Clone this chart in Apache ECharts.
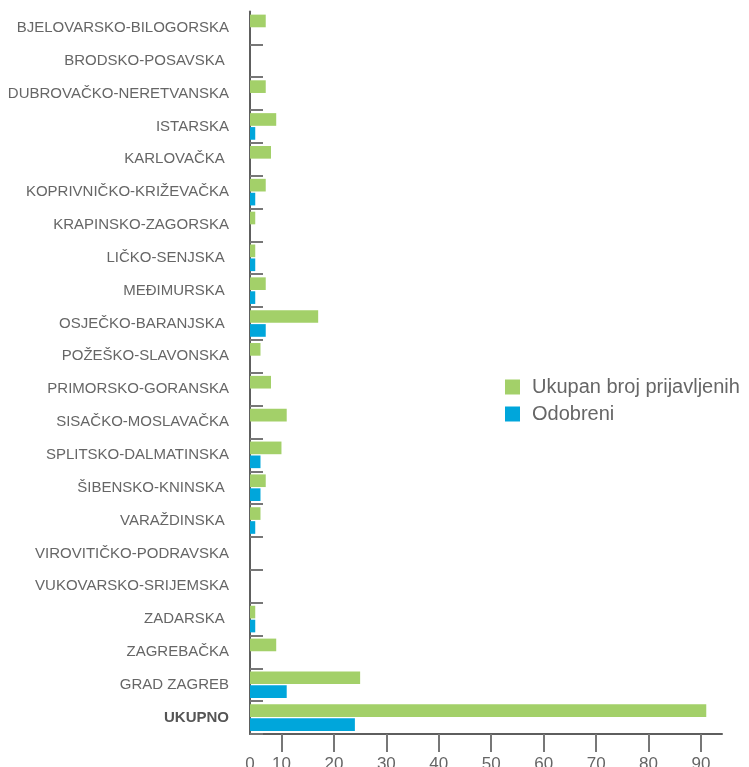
<!DOCTYPE html>
<html>
<head>
<meta charset="utf-8">
<script src="https://cdn.jsdelivr.net/npm/echarts@6/dist/echarts.min.js"></script>
<style>
  html, body { margin: 0; padding: 0; background: #fff; }
  #chart { width: 749px; height: 767px; }
</style>
</head>
<body>
<div id="chart"></div>
<script>
const counties = [
  'BJELOVARSKO-BILOGORSKA', 'BRODSKO-POSAVSKA ', 'DUBROVAČKO-NERETVANSKA', 'ISTARSKA',
  'KARLOVAČKA ', 'KOPRIVNIČKO-KRIŽEVAČKA', 'KRAPINSKO-ZAGORSKA', 'LIČKO-SENJSKA ',
  'MEĐIMURSKA ', 'OSJEČKO-BARANJSKA ', 'POŽEŠKO-SLAVONSKA', 'PRIMORSKO-GORANSKA',
  'SISAČKO-MOSLAVAČKA', 'SPLITSKO-DALMATINSKA', 'ŠIBENSKO-KNINSKA ', 'VARAŽDINSKA ',
  'VIROVITIČKO-PODRAVSKA', 'VUKOVARSKO-SRIJEMSKA', 'ZADARSKA ', 'ZAGREBAČKA',
  'GRAD ZAGREB', 'UKUPNO'
];
const submitted = [3, 0, 3, 5, 4, 3, 1, 1, 3, 13, 2, 4, 7, 6, 3, 2, 0, 0, 1, 5, 21, 87];
const approved  = [0, 0, 0, 1, 0, 1, 0, 1, 1, 3, 0, 0, 0, 2, 2, 1, 0, 0, 1, 0, 7, 20];

// where the reference puts its x-axis ticks, and what they read
const tickValues = [0, 6, 16, 26, 36, 46, 56, 66, 76, 86];
const tickLabels = ['0', '10', '20', '30', '40', '50', '60', '70', '80', '90'];

const chart = echarts.init(document.getElementById('chart'));
const font = '"Liberation Sans", Arial, sans-serif';

chart.setOption({
  animation: false,
  textStyle: { fontFamily: font },
  legend: {
    orient: 'vertical',
    left: 500,
    top: 372,
    itemWidth: 15,
    itemHeight: 15,
    itemGap: 7,
    icon: 'rect',
    textStyle: { fontSize: 20, color: '#666', fontFamily: font, padding: [0, 0, 0, 7] },
    data: ['Ukupan broj prijavljenih', 'Odobreni']
  },
  grid: { left: 250, right: 27, top: 11.5, bottom: 33, containLabel: false, outerBoundsMode: 'none' },
  xAxis: {
    type: 'value',
    min: 0,
    max: 90,
    splitLine: { show: false },
    axisLine: { show: true, lineStyle: { color: '#5e5e5e', width: 2 } },
    axisTick: {
      show: true,
      customValues: tickValues.slice(1),
      length: 18,
      lineStyle: { color: '#777', width: 2 }
    },
    axisLabel: {
      customValues: tickValues,
      margin: 22,
      fontSize: 17,
      color: '#666',
      formatter: (v) => tickLabels[tickValues.indexOf(v)]
    }
  },
  yAxis: {
    type: 'category',
    inverse: true,
    data: counties,
    axisLine: { show: true, lineStyle: { color: '#5e5e5e', width: 2 } },
    axisTick: {
      show: true,
      inside: true,
      length: 13,
      interval: (i) => i > 0,
      lineStyle: { color: '#777', width: 2 }
    },
    axisLabel: {
      margin: 21,
      fontSize: 15,
      color: '#666',
      formatter: (v) => v === 'UKUPNO' ? '{b|' + v + '}' : v,
      rich: { b: { fontWeight: 'bold', fontSize: 15, color: '#555', fontFamily: font } }
    }
  },
  series: [
    {
      name: 'Ukupan broj prijavljenih',
      type: 'bar',
      data: submitted,
      itemStyle: { color: '#a3d069' },
      barGap: '10%',
      barCategoryGap: '19%'
    },
    {
      name: 'Odobreni',
      type: 'bar',
      data: approved,
      itemStyle: { color: '#00a6db' }
    }
  ]
});
</script>
</body>
</html>
